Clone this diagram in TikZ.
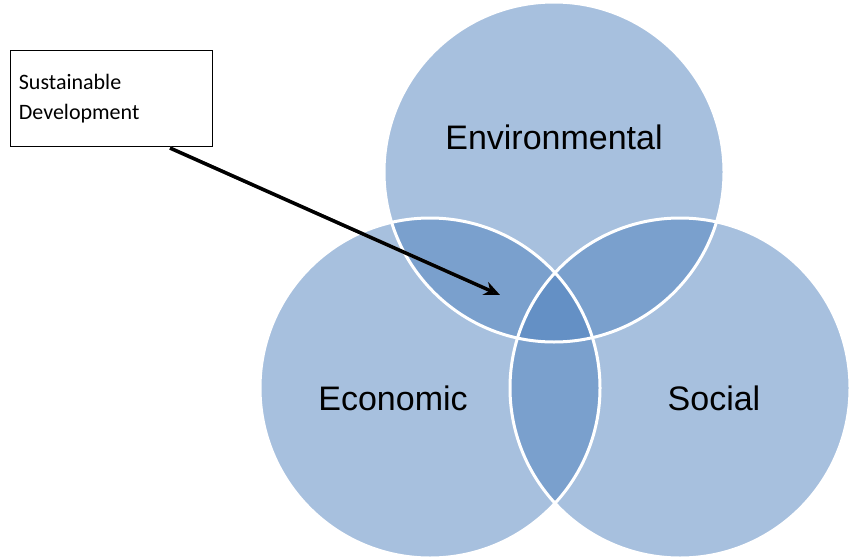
\documentclass[tikz,border=0pt]{standalone}
\usepackage{fontspec}
\setmainfont{Liberation Sans}
\newfontfamily\boxfont{Carlito}
\usetikzlibrary{arrows.meta}
\begin{document}
\begin{tikzpicture}[x=1pt,y=-1pt,
  circ/.style={fill={rgb,255:red,79;green,129;blue,189},fill opacity=0.5},
  rim/.style={draw=white,line width=3pt},
  lbl/.style={font=\fontsize{34}{40}\selectfont},
  arr/.style={line width=3.5pt,-{Stealth[length=16pt,width=14pt,open,line width=3pt]}}]
\useasboundingbox (0,0) rectangle (850,559);
\fill[circ] (554,172) circle (170);
\fill[circ] (430,388) circle (170);
\fill[circ] (680,388) circle (170);
\draw[rim] (554,172) circle (170);
\draw[rim] (430,388) circle (170);
\draw[rim] (680,388) circle (170);
\node[lbl] (env) at (554,137) {Environmental};
\node[lbl] (eco) at (393,398) {Economic};
\node[lbl] (soc) at (714,398) {Social};
\node[draw,thick,fill=white,minimum width=202pt,minimum height=96pt,anchor=north west,
  align=left,text width=185pt,font=\boxfont\fontsize{22}{30}\selectfont] (sd) at (10,50)
  {Sustainable\\Development};
\coordinate (s) at (170,148);
\coordinate (e) at (500,295);
\draw[arr,gray!70,shift={(2,2)}] (s) -- (e);
\draw[arr,black] (s) -- (e);
\end{tikzpicture}
\end{document}
